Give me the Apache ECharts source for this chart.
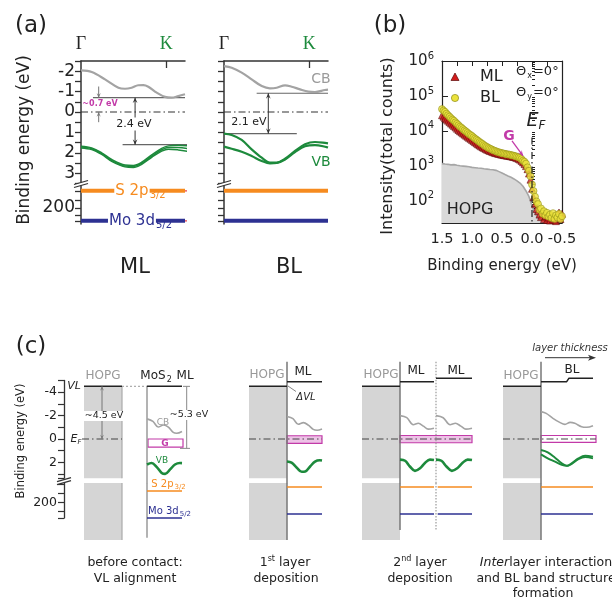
<!DOCTYPE html>
<html><head><meta charset="utf-8">
<script src="https://cdn.jsdelivr.net/npm/echarts@6/dist/echarts.min.js"></script>
<style>html,body{margin:0;padding:0;background:#fff}#c{width:612px;height:597px}</style>
</head><body><div id="c"></div>
<script>
// ================= DATA =================
// Panel (a): bands along Γ–K (k normalised: Γ = 0, panel edge = 1), binding energy (eV)
const kPointK = 0.82;
const cbML = [[0,-2.04],[0.103,-1.96],[0.231,-1.6],[0.36,-1.19],[0.423,-1.14],[0.487,-1.19],[0.55,-1.31],[0.6,-1.32],[0.647,-1.24],[0.728,-0.95],[0.808,-0.74],[0.872,-0.7],[0.936,-0.78],[1.0,-0.87]];
const vbML1 = [[0,1.68],[0.103,1.76],[0.199,2.0],[0.295,2.33],[0.423,2.6],[0.503,2.62],[0.584,2.46],[0.68,2.1],[0.776,1.78],[0.84,1.66],[0.936,1.63],[1.02,1.66]];
const vbML2 = [[0,1.72],[0.103,1.8],[0.199,2.04],[0.295,2.38],[0.423,2.65],[0.503,2.67],[0.584,2.51],[0.68,2.16],[0.776,1.85],[0.84,1.74],[0.936,1.74],[1.02,1.79]];
const vbML3 = [[0,1.76],[0.103,1.84],[0.199,2.08],[0.295,2.42],[0.423,2.69],[0.503,2.72],[0.584,2.56],[0.68,2.22],[0.776,1.92],[0.84,1.82],[0.936,1.86],[1.02,1.93]];
const cbBL = [[0,-2.25],[0.074,-2.17],[0.17,-1.93],[0.266,-1.6],[0.363,-1.27],[0.442,-1.16],[0.507,-1.19],[0.587,-1.31],[0.651,-1.24],[0.731,-1.11],[0.811,-1.0],[0.875,-0.98],[0.971,-1.08],[1.0,-1.1]];
const vbBLupper = [[0,1.06],[0.074,1.13],[0.17,1.37],[0.266,1.83],[0.363,2.24],[0.442,2.48],[0.507,2.48],[0.587,2.29],[0.683,1.91],[0.779,1.58],[0.875,1.47],[0.987,1.53],[1.0,1.54]];
const vbBLlower = [[0,1.70],[0.074,1.8],[0.17,1.95],[0.266,2.16],[0.363,2.4],[0.442,2.52],[0.507,2.5],[0.587,2.33],[0.683,1.97],[0.779,1.68],[0.875,1.62],[0.987,1.72],[1.0,1.74]];
const gapML = {cbMin:-0.7, vbMax:1.6};     // 2.4 eV
const gapBL = {cbMin:-0.92, vbMax:1.06};   // 2.1 eV
const coreA = {S2p:162, Mo3d:229};

// Panel (b): ARPES intensity vs binding energy (eV, counts)
const specML = [[1.5,28000],[1.475,25500],[1.45,23000],[1.425,21000],[1.4,19500],[1.375,17800],[1.35,16200],[1.325,15000],[1.3,13800],[1.275,12600],[1.25,11500],[1.225,10600],[1.2,9800],[1.175,9100],[1.15,8400],[1.125,7800],[1.1,7300],[1.075,6800],[1.05,6300],[1.025,5900],[1.0,5500],[0.975,5100],[0.95,4750],[0.925,4400],[0.9,4100],[0.875,3850],[0.85,3600],[0.825,3400],[0.8,3250],[0.775,3050],[0.75,2900],[0.725,2780],[0.7,2650],[0.675,2550],[0.65,2450],[0.625,2380],[0.6,2300],[0.575,2240],[0.55,2180],[0.525,2130],[0.5,2080],[0.475,2040],[0.45,2000],[0.425,1960],[0.4,1930],[0.375,1900],[0.35,1860],[0.325,1820],[0.3,1780],[0.275,1720],[0.25,1660],[0.225,1580],[0.2,1500],[0.175,1380],[0.15,1250],[0.125,1120],[0.1,980],[0.075,800],[0.05,600],[0.025,400],[0,220],[-0.025,125],[-0.05,80],[-0.075,58],[-0.1,50],[-0.125,40],[-0.15,34],[-0.175,45],[-0.2,30],[-0.225,36],[-0.25,28],[-0.275,33],[-0.3,27],[-0.325,38],[-0.35,29],[-0.375,32],[-0.4,26],[-0.425,40],[-0.45,46],[-0.475,30],[-0.5,42]];
const specBL = [[1.5,42000],[1.475,38000],[1.45,35000],[1.425,31000],[1.4,28000],[1.375,25500],[1.35,23000],[1.325,21000],[1.3,19500],[1.275,17500],[1.25,16000],[1.225,14500],[1.2,13200],[1.175,12200],[1.15,11200],[1.125,10300],[1.1,9600],[1.075,8800],[1.05,8100],[1.025,7600],[1.0,7100],[0.975,6500],[0.95,6000],[0.925,5600],[0.9,5200],[0.875,4800],[0.85,4500],[0.825,4200],[0.8,3900],[0.775,3650],[0.75,3450],[0.725,3250],[0.7,3100],[0.675,2950],[0.65,2800],[0.625,2700],[0.6,2600],[0.575,2500],[0.55,2420],[0.525,2350],[0.5,2300],[0.475,2250],[0.45,2200],[0.425,2150],[0.4,2120],[0.375,2080],[0.35,2030],[0.325,1980],[0.3,1940],[0.275,1880],[0.25,1820],[0.225,1750],[0.2,1680],[0.175,1550],[0.15,1400],[0.125,1300],[0.1,1150],[0.075,900],[0.05,720],[0.025,500],[0,290],[-0.025,190],[-0.05,130],[-0.075,95],[-0.1,80],[-0.125,55],[-0.15,60],[-0.175,42],[-0.2,50],[-0.225,38],[-0.25,45],[-0.275,35],[-0.3,40],[-0.325,32],[-0.35,44],[-0.375,30],[-0.4,38],[-0.425,33],[-0.45,42],[-0.475,30],[-0.5,36]];
const specHOPG = [[1.5,1150],[1.45,1120],[1.4,1100],[1.35,1060],[1.3,1080],[1.25,1030],[1.2,1000],[1.15,980],[1.1,960],[1.05,940],[1.0,900],[0.95,880],[0.9,860],[0.85,850],[0.8,820],[0.75,800],[0.7,780],[0.65,770],[0.6,740],[0.55,680],[0.5,620],[0.45,560],[0.4,510],[0.35,470],[0.3,420],[0.25,370],[0.2,320],[0.15,260],[0.1,190],[0.05,130],[0,70],[-0.05,45],[-0.1,32],[-0.15,28],[-0.2,30],[-0.25,26],[-0.3,29],[-0.35,25],[-0.4,28],[-0.45,26],[-0.5,27]];
const logTicksMajor = [100,1000,10000,100000,1000000];
const logTicksMinor = [30,40,50,60,70,80,90,200,300,400,500,600,700,800,900,2000,3000,4000,5000,6000,7000,8000,9000,20000,30000,40000,50000,60000,70000,80000,90000,200000,300000,400000,500000,600000,700000,800000,900000];
const gArrow = [[0.333,5180],[0.15,1930]];
const efTop = 6500;

// Panel (c): schematic energies (eV); k normalised 0..1 across each slab
const cVL = {hopg:-4.5, ml1:-4.9, ml2:-5.2};
const cGbox = {before:[0.0,0.7], first:[-0.28,0.37], second:[-0.3,0.32], bl:[-0.3,0.28]};
const cCore = {before:{S:175.4, Mo:234}, after:{S:166.7, Mo:225.3}};
const c1CB = [[0,-1.72],[0.17,-1.5],[0.32,-1.02],[0.47,-1.2],[0.61,-1.02],[0.75,-0.56],[0.85,-0.49],[1,-0.64]];
const c1VB = [[0,2.18],[0.13,2.05],[0.28,2.4],[0.42,2.9],[0.52,2.98],[0.66,2.6],[0.8,2.18],[0.94,2.05],[1,2.06]];
const c2CB = [[0,-1.92],[0.17,-1.74],[0.32,-1.26],[0.47,-1.4],[0.61,-1.18],[0.75,-0.82],[0.86,-0.75],[1,-0.86]];
const c2VB = [[0,1.92],[0.13,2.02],[0.28,2.45],[0.42,2.8],[0.52,2.78],[0.66,2.35],[0.8,1.93],[0.94,1.82],[1,1.84]];
const c3CB = [[0,-2.0],[0.2,-1.82],[0.39,-1.22],[0.54,-1.34],[0.69,-1.1],[0.83,-0.84],[1,-0.92]];
const c3VB = [[0,1.76],[0.15,1.86],[0.29,2.35],[0.44,2.72],[0.59,2.5],[0.74,2.03],[0.88,1.76],[1,1.8]];
const c4CB = [[0,-2.34],[0.1,-2.19],[0.23,-1.77],[0.36,-1.42],[0.46,-1.25],[0.56,-1.42],[0.65,-1.34],[0.78,-1.05],[0.88,-1.0],[1,-1.14]];
const c4VBu = [[0,0.94],[0.13,1.14],[0.27,1.6],[0.4,2.08],[0.5,2.28],[0.59,2.08],[0.72,1.65],[0.85,1.43],[1,1.51]];
const c4VBl = [[0,1.31],[0.13,1.65],[0.27,1.94],[0.4,2.22],[0.5,2.3],[0.59,2.12],[0.72,1.72],[0.85,1.55],[1,1.65]];

// ================= LAYOUT / STYLE =================
const GREEN='#1d8a3c', GRAYB='#a3a3a3', ORANGE='#f68b1f', NAVY='#2d3192', MAG='#c23aa8', REDDASH='#e8434a', AX='#333', TXT='#222';
const DASHDOT=[7,3,1.5,3];
const FONT='"DejaVu Sans", Verdana, sans-serif';
const cL = { hopg:[[84,122],[249,287],[362,400],[503,541]],
  s1:[147,182], s2:[287,322], s3a:[400,434], s3b:[436,472], s4:[541,593],
  gbox:[[148,183],[287,322],[400,472],[541,596]], ef:[[82,122],[249,322],[362,472],[503,596]],
  topBreak:3.35, lowTop:158, lowBottom:282 };

const series = [];
function L(xi, yi, data, color, width, type, extra){
  series.push(Object.assign({type:'line', xAxisIndex:xi, yAxisIndex:yi, data:data, symbol:'none', silent:true, clip:false, animation:false,
    lineStyle:{color:color, width:width, type:type||'solid'}, z:3}, extra||{}));
}
function rects(xi, yi, data, style, z){
  series.push({type:'custom', xAxisIndex:xi, yAxisIndex:yi, clip:false, silent:true, animation:false, z:z||1, data:data,
    renderItem:function(p, api){ const a=api.coord([api.value(0),api.value(2)]), b=api.coord([api.value(1),api.value(3)]);
      return {type:'rect', shape:{x:Math.min(a[0],b[0]), y:Math.min(a[1],b[1]), width:Math.abs(b[0]-a[0]), height:Math.abs(b[1]-a[1])}, style:Object.assign({},style)}; }});
}
function arrows(xi, yi, data, color, lw, hs, z){
  series.push({type:'custom', xAxisIndex:xi, yAxisIndex:yi, clip:false, silent:true, animation:false, z:z||6, data:data,
    renderItem:function(p, api){ const a=api.coord([api.value(0),api.value(1)]), b=api.coord([api.value(2),api.value(3)]);
      const kids=[{type:'line', shape:{x1:a[0],y1:a[1],x2:b[0],y2:b[1]}, style:{stroke:color, lineWidth:lw}}];
      const head=function(t,f){ const dx=t[0]-f[0], dy=t[1]-f[1], Ln=Math.hypot(dx,dy)||1, ux=dx/Ln, uy=dy/Ln, l=hs*1.8, w=hs*0.8;
        return {type:'polygon', shape:{points:[[t[0],t[1]],[t[0]-ux*l-uy*w, t[1]-uy*l+ux*w],[t[0]-ux*l*0.6, t[1]-uy*l*0.6],[t[0]-ux*l+uy*w, t[1]-uy*l-ux*w]]}, style:{fill:color}}; };
      if(api.value(4)) kids.push(head(a,b)); if(api.value(5)) kids.push(head(b,a));
      return {type:'group', children:kids}; }});
}
const mapK = (arr, r) => arr.map(p => [r[0] + p[0]*(r[1]-r[0]), p[1]]);

// ---------- Panel (a) ----------
[[0,1,cbML,[vbML1,vbML2,vbML3],gapML,[0.115,1],[0.4,1.02],0.52],[2,3,cbBL,[vbBLupper,vbBLlower],gapBL,[0.314,1],[0,0.7],0.426]].forEach(function(c, idx){
  const xi=c[0], yl=c[1];
  L(xi, xi, [[0,0],[1,0]], AX, 1.2, DASHDOT);
  L(xi, xi, [[c[5][0],c[4].cbMin],[c[5][1],c[4].cbMin]], '#666', 1.2);
  L(xi, xi, [[c[6][0],c[4].vbMax],[c[6][1],c[4].vbMax]], '#666', 1.2);
  L(xi, xi, c[2], GRAYB, 2.2, 'solid', {smooth:0.35});
  c[3].forEach(v => L(xi, xi, v, GREEN, idx===0?1.5:2.2, 'solid', {smooth:0.35}));
  arrows(xi, xi, [[c[7], c[4].cbMin, c[7], c[4].vbMax, 1, 1]], AX, 1, 3);
  L(yl, yl, [[0,coreA.S2p],[1,coreA.S2p]], ORANGE, 4);
  L(yl, yl, [[0,coreA.Mo3d],[1,coreA.Mo3d]], NAVY, 4);
  if(idx===0){
    L(yl, yl, [[1,coreA.S2p],[1.356,coreA.S2p]], REDDASH, 1.2, DASHDOT);
    L(yl, yl, [[1,coreA.Mo3d],[1.356,coreA.Mo3d]], REDDASH, 1.2, DASHDOT);
    arrows(xi, xi, [[0.17,-1.25,0.17,gapML.cbMin,0,1],[0.17,0.5,0.17,0,0,1]], '#777', 1, 2.6);
  }
});

// ---------- Panel (b) ----------
series.push({type:'line', xAxisIndex:4, yAxisIndex:4, data:specHOPG, symbol:'none', silent:true, animation:false, z:1,
  lineStyle:{color:'#a6a6a6', width:1.6}, areaStyle:{color:'#d9d9d9', opacity:1, origin:'start'}});
series.push({type:'scatter', name:'ML', xAxisIndex:4, yAxisIndex:4, data:specML, symbol:'triangle', symbolSize:7, silent:true, animation:false, z:3,
  itemStyle:{color:'#d31c1c', borderColor:'#5a0b0b', borderWidth:0.7}});
series.push({type:'scatter', name:'BL', xAxisIndex:4, yAxisIndex:4, data:specBL, symbol:'circle', symbolSize:7, silent:true, animation:false, z:4,
  itemStyle:{color:'#ebe23c', borderColor:'#8c8a14', borderWidth:0.7}});
L(4, 4, [[0,efTop],[0,23]], '#222', 1.2, DASHDOT, {z:5, clip:true});
arrows(4, 4, [[gArrow[0][0],gArrow[0][1],gArrow[1][0],gArrow[1][1],0,1]], MAG, 1.3, 3);

// ---------- Panel (c) ----------
const CT=6, CTY=7, CB=7, CBY=8;
rects(CT, CTY, cL.hopg.map(h => [h[0],h[1],cVL.hopg,cL.topBreak]), {fill:'#d5d5d5'});
rects(CB, CBY, cL.hopg.map(h => [h[0],h[1],cL.lowTop,cL.lowBottom]), {fill:'#d5d5d5'});
const gb=[cGbox.before,cGbox.first,cGbox.second,cGbox.bl], gfill=['#ffffff','rgba(214,120,200,0.45)','rgba(214,120,200,0.45)','#ffffff'];
gb.forEach((g,i)=>rects(CT, CTY, [[cL.gbox[i][0],cL.gbox[i][1],g[0],g[1]]], {fill:gfill[i], stroke:MAG, lineWidth:1.2}, 2));
cL.ef.forEach(r => L(CT, CTY, [[r[0],0],[r[1],0]], '#444', 1.1, DASHDOT, {z:4}));
L(CT, CTY, [[cL.hopg[0][1],cVL.hopg],[cL.hopg[0][1],cL.topBreak]], '#aaa', 1.2);
L(CB, CBY, [[cL.hopg[0][1],cL.lowTop],[cL.hopg[0][1],cL.lowBottom]], '#aaa', 1.2);
L(CT, CTY, [[cL.s1[0],cVL.hopg],[cL.s1[0],3.78]], '#9a9a9a', 1.5);
L(CB, CBY, [[cL.s1[0],cL.lowTop],[cL.s1[0],277]], '#9a9a9a', 1.5);
[[cL.s2[0],282],[cL.s3a[0],260],[cL.s4[0],282]].forEach(v => {
  L(CT, CTY, [[v[0],-6.6],[v[0],3.78]], '#777', 1.5);
  L(CB, CBY, [[v[0],cL.lowTop],[v[0],v[1]]], '#777', 1.5);
});
L(CT, CTY, [[cL.s3b[0],-6.6],[cL.s3b[0],3.78]], '#999', 1.2, [1.5,1.5]);
L(CB, CBY, [[cL.s3b[0],cL.lowTop],[cL.s3b[0],260]], '#999', 1.2, [1.5,1.5]);
cL.hopg.forEach(h => L(CT, CTY, [[h[0],cVL.hopg],[h[1],cVL.hopg]], '#222', 1.5));
L(CT, CTY, [[cL.hopg[0][1],cVL.hopg],[cL.s1[0],cVL.hopg]], '#aaa', 1.2, [2,2]);
L(CT, CTY, [[cL.s1[0],cVL.hopg],[cL.s1[1],cVL.hopg]], '#222', 1.5);
L(CT, CTY, [[cL.s2[0],cVL.ml1],[cL.s2[1],cVL.ml1]], '#222', 1.5);
L(CT, CTY, [[cL.s3a[0],cVL.ml1],[cL.s3a[1],cVL.ml1]], '#222', 1.5);
L(CT, CTY, [[cL.s3b[0],cVL.ml2],[cL.s3b[1],cVL.ml2]], '#222', 1.5);
L(CT, CTY, [[cL.s4[0],cVL.ml1],[566.7,cVL.ml1],[569,cVL.ml2],[cL.s4[1],cVL.ml2]], '#222', 1.5);
L(CT, CTY, mapK(c1CB,cL.s1), GRAYB, 1.6, 'solid', {smooth:0.35});
L(CT, CTY, mapK(c1VB,cL.s1), GREEN, 2.6, 'solid', {smooth:0.35});
L(CT, CTY, mapK(c2CB,cL.s2), GRAYB, 1.6, 'solid', {smooth:0.35});
L(CT, CTY, mapK(c2VB,cL.s2), GREEN, 2.6, 'solid', {smooth:0.35});
[cL.s3a, cL.s3b].forEach(r => { L(CT, CTY, mapK(c3CB,r), GRAYB, 1.6, 'solid', {smooth:0.35}); L(CT, CTY, mapK(c3VB,r), GREEN, 2.6, 'solid', {smooth:0.35}); });
L(CT, CTY, mapK(c4CB,cL.s4), GRAYB, 1.6, 'solid', {smooth:0.35});
L(CT, CTY, mapK(c4VBu,cL.s4), GREEN, 1.9, 'solid', {smooth:0.35});
L(CT, CTY, mapK(c4VBl,cL.s4), GREEN, 1.9, 'solid', {smooth:0.35});
L(CB, CBY, [[cL.s1[0],cCore.before.S],[cL.s1[1],cCore.before.S]], ORANGE, 1.5);
L(CB, CBY, [[cL.s1[0],cCore.before.Mo],[cL.s1[1],cCore.before.Mo]], NAVY, 1.5);
[cL.s2, [cL.s3a[0],cL.s3a[1]], [437.7,cL.s3b[1]], cL.s4].forEach(r => {
  L(CB, CBY, [[r[0],cCore.after.S],[r[1],cCore.after.S]], ORANGE, 1.5);
  L(CB, CBY, [[r[0],cCore.after.Mo],[r[1],cCore.after.Mo]], NAVY, 1.5);
});
arrows(CT, CTY, [[102,cVL.hopg,102,0,1,1]], '#777', 1, 2.4);
L(CT, CTY, [[183,cVL.hopg],[190,cVL.hopg]], '#888', 1);
L(CT, CTY, [[186.7,cVL.hopg],[186.7,cGbox.before[1]+0.1]], '#888', 1);
L(CT, CTY, [[180,cGbox.before[1]+0.1],[190,cGbox.before[1]+0.1]], '#888', 1);

// ================= AXES =================
const noAx = (gi, extra) => Object.assign({gridIndex:gi, type:'value', show:false, min:0, max:1}, extra||{});
const aYTop = (gi, labels) => ({gridIndex:gi, type:'value', inverse:true, min:-2.5, max:3.5, interval:0.5,
  axisLine:{show:true, onZero:false, lineStyle:{color:AX, width:1.5}}, axisTick:{show:true, length:6, lineStyle:{color:AX, width:1.3}},
  axisLabel:{show:labels, formatter:v => Number.isInteger(v) ? String(v) : '', fontSize:17, color:TXT, fontFamily:FONT, margin:6}, splitLine:{show:false}});
const aYLow = (gi, labels) => ({gridIndex:gi, type:'value', inverse:true, min:149, max:236,
  axisLine:{show:true, onZero:false, lineStyle:{color:AX, width:1.5}}, axisTick:{show:true, length:6, customValues:[162,182,200,216,229], lineStyle:{color:AX, width:1.3}},
  axisLabel:{show:labels, customValues:[200], fontSize:17, color:TXT, fontFamily:FONT, margin:6}, splitLine:{show:false}});
const aXTop = gi => ({gridIndex:gi, type:'value', min:0, max:1, position:'top',
  axisLine:{show:true, onZero:false, lineStyle:{color:AX, width:1.5}},
  axisTick:{show:true, inside:true, length:7, customValues:[kPointK], lineStyle:{color:AX, width:1.3}},
  axisLabel:{show:true, customValues:[0,kPointK], margin:8, showMinLabel:true, formatter:v => v===0 ? '{g|Γ}' : '{k|K}',
    rich:{g:{color:TXT, fontFamily:'"Liberation Serif", serif', fontSize:18}, k:{color:GREEN, fontFamily:'"Liberation Serif", serif', fontSize:18}}},
  splitLine:{show:false}});
const bAxStyle = {onZero:false, lineStyle:{color:'#222', width:1.2}};

const xAxes = [
  aXTop(0), noAx(1), aXTop(2), noAx(3),
  {gridIndex:4, type:'value', inverse:true, min:-0.5, max:1.5, interval:0.25, axisLine:Object.assign({show:true},bAxStyle),
    axisTick:{show:true, inside:true, length:5, lineStyle:{color:'#222'}},
    axisLabel:{formatter:v => Math.abs(v*2-Math.round(v*2))<1e-6 ? v.toFixed(1) : '', fontSize:14.5, color:TXT, fontFamily:FONT, margin:9}, splitLine:{show:false}},
  {gridIndex:4, type:'value', inverse:true, min:-0.5, max:1.5, interval:0.25, position:'top', axisLine:Object.assign({show:true},bAxStyle),
    axisTick:{show:true, inside:true, length:5, lineStyle:{color:'#222'}}, axisLabel:{show:false}, splitLine:{show:false}},
  noAx(5, {min:64, max:612}), noAx(6, {min:64, max:612})
];
const yAxes = [
  aYTop(0,true), aYLow(1,true), aYTop(2,false), aYLow(3,false),
  {gridIndex:4, type:'log', logBase:10, min:23, max:1000000, axisLine:Object.assign({show:true},bAxStyle),
    axisTick:{show:true, inside:true, length:6, customValues:logTicksMajor, lineStyle:{color:'#222'}},
    axisLabel:{customValues:logTicksMajor, margin:8, formatter:v => '{b|10}{s|' + Math.round(Math.log10(v)) + '}',
      rich:{b:{fontSize:15, lineHeight:20, color:TXT, fontFamily:FONT}, s:{fontSize:10, lineHeight:11, verticalAlign:'top', color:TXT, fontFamily:FONT}}}, splitLine:{show:false}},
  {gridIndex:4, type:'log', logBase:10, min:23, max:1000000, position:'right', axisLine:Object.assign({show:true},bAxStyle), axisTick:{show:false}, axisLabel:{show:false}, splitLine:{show:false}},
  {gridIndex:4, type:'log', logBase:10, min:23, max:1000000, position:'left', axisLine:{show:false},
    axisTick:{show:true, inside:true, length:3, customValues:logTicksMinor, lineStyle:{color:'#222'}}, axisLabel:{show:false}, splitLine:{show:false}},
  {gridIndex:5, type:'value', inverse:true, min:-5, max:3.35, interval:1,
    axisLine:{show:true, onZero:false, lineStyle:{color:AX, width:1.3}}, axisTick:{show:true, length:6, lineStyle:{color:AX, width:1.2}},
    axisLabel:{formatter:v => (v%2===0) ? String(v) : '', fontSize:12.5, color:TXT, fontFamily:FONT, margin:7}, splitLine:{show:false}},
  {gridIndex:6, type:'value', inverse:true, min:158, max:234,
    axisLine:{show:true, onZero:false, lineStyle:{color:AX, width:1.3}}, axisTick:{show:true, length:6, customValues:[160,180,200,220,234], lineStyle:{color:AX, width:1.2}},
    axisLabel:{customValues:[200], fontSize:12.5, color:TXT, fontFamily:FONT, margin:7}, splitLine:{show:false}}
];

// ================= TEXT / DECORATION =================
function T(x, y, text, o){ o=o||{};
  const st={text:text, fill:o.color||TXT, font:(o.italic?'italic ':'')+(o.bold?'bold ':'')+(o.size||12)+'px '+FONT,
    textAlign:o.align||'center', align:o.align||'center', textVerticalAlign:'middle', verticalAlign:'middle'};
  if(o.rich) st.rich=o.rich; if(o.bg){st.backgroundColor=o.bg; st.padding=o.pad||[0,1];}
  return {type:'text', x:x, y:y, rotation:o.rot||0, z:100, silent:true, style:st};
}
const subRich = (size, color, mainBg) => ({m:{fontSize:size, fill:color, lineHeight:size+3, fontFamily:FONT, backgroundColor:mainBg||'transparent', padding:[0,1]},
  s:{fontSize:Math.round(size*0.65), fill:color, lineHeight:Math.round(size*0.55), verticalAlign:'bottom', fontFamily:FONT}});
const supRich = size => ({m:{fontSize:size, fill:TXT, lineHeight:size+4, fontFamily:FONT}, s:{fontSize:Math.round(size*0.65), fill:TXT, lineHeight:Math.round(size*0.6), verticalAlign:'top', fontFamily:FONT},
  i:{fontSize:size, fill:TXT, lineHeight:size+4, fontFamily:FONT, fontStyle:'italic'}});
const PI2 = Math.PI/2;
const line = (x1,y1,x2,y2,c,w,dash) => ({type:'line', z:99, silent:true, shape:{x1:x1,y1:y1,x2:x2,y2:y2}, style:{stroke:c||AX, lineWidth:w||1.2, lineDash:dash||null}});
const brk = (x, y) => [{type:'polygon', z:98, silent:true, shape:{points:[[x-7,y+1.5],[x+7,y-2.5],[x+7,y+0.5],[x-7,y+4.5]]}, style:{fill:'#fff'}},
  line(x-7,y+1.5,x+7,y-2.5,AX,1.3), line(x-7,y+4.5,x+7,y+0.5,AX,1.3)];

const graphics = [].concat(
  [T(31,26,'(a)',{size:23}), T(25,140,'Binding energy (eV)',{size:17, rot:PI2}),
   T(100,104,'~0.7 eV',{size:8, bold:true, color:MAG}),
   T(134,124,'2.4 eV',{size:11, bg:'#fff', pad:[1,1]}), T(249,122,'2.1 eV',{size:11}),
   T(321,79,'CB',{size:14, color:'#9a9a9a'}), T(321,162,'VB',{size:14, color:GREEN}),
   T(140,191,'{m|S 2p}{s|3/2}',{rich:subRich(15,ORANGE,'#fff')}),
   T(140,221,'{m|Mo 3d}{s|5/2}',{rich:subRich(15,NAVY,'#fff')}),
   T(135,268,'ML',{size:21}), T(289,268,'BL',{size:21})],
  brk(81,183), brk(224,183), brk(64,480),
  [T(390,26,'(b)',{size:23}), T(388,146,'Intensity(total counts)',{size:16, rot:PI2}),
   T(502,266,'Binding energy (eV)',{size:15}),
   {type:'polygon', z:100, silent:true, shape:{points:[[455,73],[451,80.5],[459,80.5]]}, style:{fill:'#d31c1c', stroke:'#5a0b0b', lineWidth:0.7}},
   {type:'circle', z:100, silent:true, shape:{cx:455, cy:98, r:3.6}, style:{fill:'#ebe23c', stroke:'#8c8a14', lineWidth:0.7}},
   T(480,77,'ML',{size:16, align:'left'}), T(480,98,'BL',{size:16, align:'left'}),
   T(515,72,'{m|Θ}{s|x}{m|=0°}',{align:'left', rich:subRich(13,TXT)}),
   T(515,93,'{m|Θ}{s|y}{m|=0°}',{align:'left', rich:subRich(13,TXT)}),
   T(536,121,'{e|E}{f|F}',{rich:{e:{fontSize:19, fontStyle:'italic', lineHeight:22, fill:TXT, fontFamily:FONT}, f:{fontSize:12, fontStyle:'italic', lineHeight:9, verticalAlign:'bottom', fill:TXT, fontFamily:FONT}}}),
   T(509,136,'G',{size:14, bold:true, color:MAG}), T(470,210,'HOPG',{size:16})],
  [T(31,347,'(c)',{size:23}), T(21,441,'Binding energy (eV)',{size:11.5, rot:PI2}),
   T(74,386,'VL',{size:11, italic:true}),
   T(76,439,'{e|E}{f|F}',{rich:{e:{fontSize:11, fontStyle:'italic', lineHeight:13, fill:TXT, fontFamily:FONT, backgroundColor:'#fff'}, f:{fontSize:7, fontStyle:'italic', lineHeight:6, verticalAlign:'bottom', fill:TXT, fontFamily:FONT}}}),
   T(103,376,'HOPG',{size:12, color:'#999'}), T(267,375,'HOPG',{size:12, color:'#999'}), T(381,375,'HOPG',{size:12, color:'#999'}), T(521,376,'HOPG',{size:12, color:'#999'}),
   T(167,376,'{m|MoS}{s|2}{m| ML}',{rich:subRich(12,TXT)}),
   T(303,372,'ML',{size:12}), T(416,371,'ML',{size:12}), T(456,371,'ML',{size:12}), T(572,370,'BL',{size:12}),
   T(104,416,'~4.5 eV',{size:9.5, bg:'#fff'}), T(189,415,'~5.3 eV',{size:9.5, bg:'#fff'}),
   T(163,423,'CB',{size:9, color:'#9a9a9a'}), T(165,443.5,'G',{size:9, bold:true, color:MAG}), T(162,461,'VB',{size:9, color:GREEN}),
   T(168,484,'{m|S 2p}{s|3/2}',{rich:subRich(10,ORANGE)}), T(169,511,'{m|Mo 3d}{s|5/2}',{rich:subRich(10,NAVY)}),
   T(306,397,'ΔVL',{size:10, italic:true}),
   line(288,386,296,391.5,'#777',0.9),
   T(570,348,'layer thickness',{size:10, italic:true, color:'#333'}),
   line(545,357.7,591,357.7,'#333',1),
   {type:'polygon', z:100, silent:true, shape:{points:[[596,357.7],[588,354.7],[590,357.7],[588,360.7]]}, style:{fill:'#333'}},
   T(135,563,'before contact:',{size:12.5}), T(135,579,'VL alignment',{size:12.5}),
   T(285,563,'{m|1}{s|st}{m| layer}',{rich:supRich(12.5)}), T(286,579,'deposition',{size:12.5}),
   T(420,563,'{m|2}{s|nd}{m| layer}',{rich:supRich(12.5)}), T(420,579,'deposition',{size:12.5}),
   T(546,563,'{i|Inter}{m|layer interaction}',{rich:supRich(12.5)}), T(546,579,'and BL band structure',{size:12.5}), T(543,594,'formation',{size:12.5})]
);

const option = {
  animation:false, backgroundColor:'#fff',
  textStyle:{fontFamily:FONT},
  grid:[
    {left:81, top:61, width:104, height:122.4},
    {left:81, top:185, width:104, height:39},
    {left:224, top:61, width:104, height:122.4},
    {left:224, top:185, width:104, height:39},
    {left:442, top:61, width:120, height:162},
    {left:64, top:380.5, width:548, height:97.7},
    {left:64, top:483, width:548, height:35}
  ],
  xAxis:xAxes, yAxis:yAxes, series:series, graphic:graphics
};
const chart = echarts.init(document.getElementById('c'), null, {renderer:'canvas'});
chart.setOption(option);
</script></body></html>
